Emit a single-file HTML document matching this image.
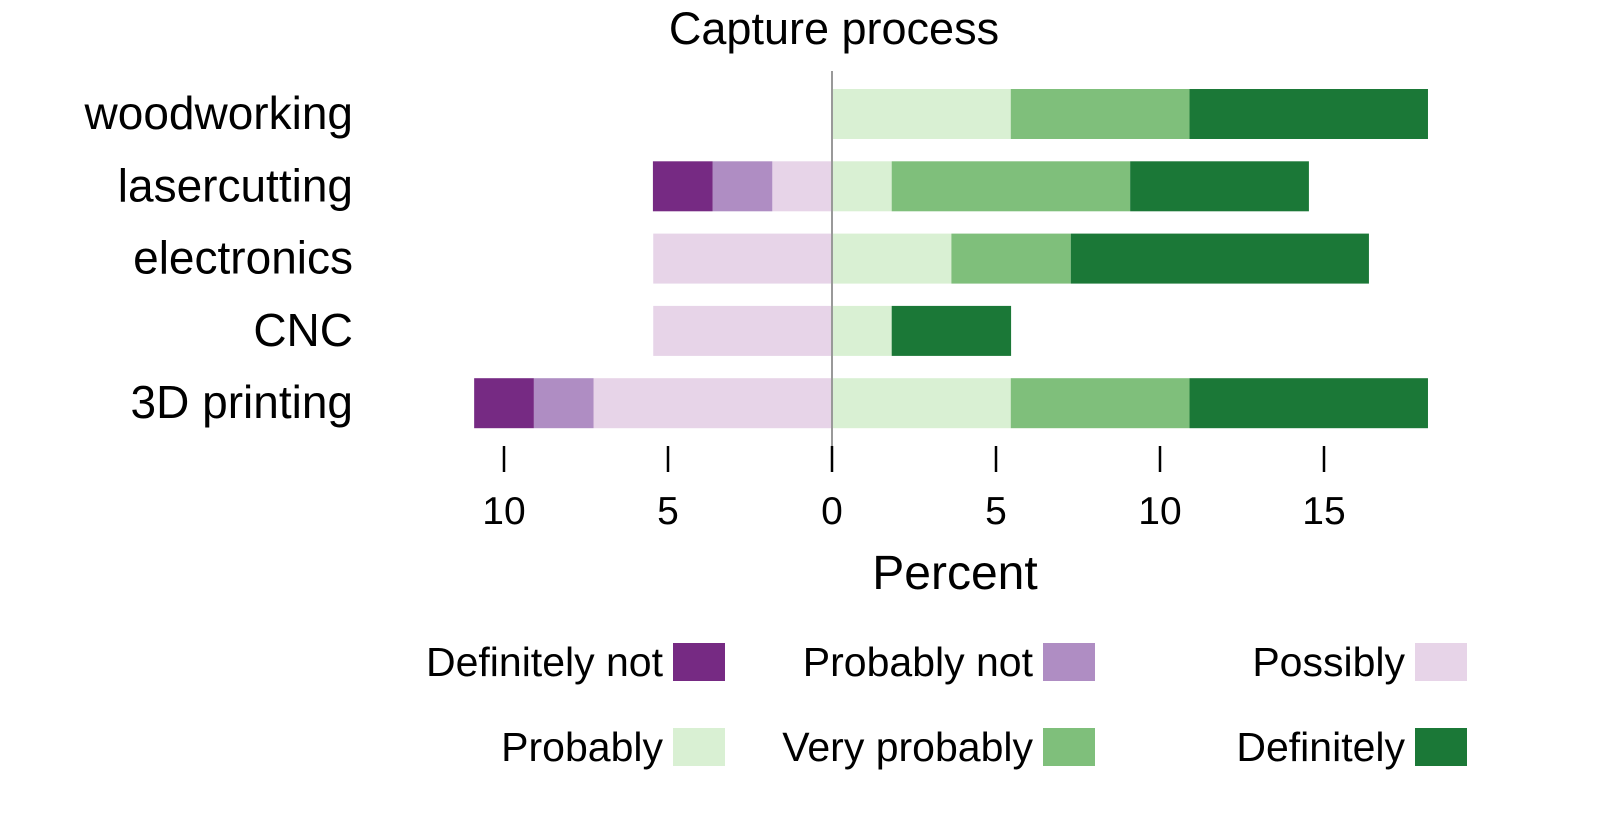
<!DOCTYPE html>
<html><head><meta charset="utf-8"><style>
html,body{margin:0;padding:0;background:#fff}
svg{display:block;font-family:"Liberation Sans",sans-serif}
</style></head><body>
<svg id="chart" width="1620" height="827" viewBox="0 0 1620 827" xmlns="http://www.w3.org/2000/svg">
<text x="834" y="44" font-size="45" text-anchor="middle">Capture process</text>
<text x="955" y="589" font-size="48" text-anchor="middle">Percent</text>
<g id="bars"></g>
<g id="axis"></g>
<g id="legend"></g>
</svg>
<script>
const categories = ["woodworking","lasercutting","electronics","CNC","3D printing"];
const levels = ["Definitely not","Probably not","Possibly","Probably","Very probably","Definitely"];
const colors = ["#762a83","#af8dc3","#e7d4e8","#d9f0d3","#7fbf7b","#1b7837"];
const definitelyNot = [0,1.82,0,0,1.82];
const probablyNot   = [0,1.82,0,0,1.82];
const possibly      = [0,1.82,5.45,5.45,7.27];
const probably      = [5.45,1.82,3.64,1.82,5.45];
const veryProbably  = [5.45,7.27,3.64,0,5.45];
const definitely    = [7.27,5.45,9.09,3.64,7.27];
const tickValues = [-10,-5,0,5,10,15];
const tickLabels = ["10","5","0","5","10","15"];

const NS="http://www.w3.org/2000/svg";
const svg=document.getElementById('chart');
const x=v=>832+v*32.8;
const y=i=>114+i*72.3;
const barH=50;
function mk(tag,attrs,parent){const e=document.createElementNS(NS,tag);for(const k in attrs)e.setAttribute(k,attrs[k]);parent.appendChild(e);return e;}
const gb=document.getElementById('bars');
const series=[definitelyNot,probablyNot,possibly,probably,veryProbably,definitely];
categories.forEach((c,i)=>{
  const t=mk('text',{x:353,y:y(i)+15,'font-size':46,'text-anchor':'end'},gb);
  
  
  t.textContent=c;
  // negative side: stack from 0 leftwards: possibly, probably not, definitely not
  let cur=0;
  [2,1,0].forEach(s=>{const v=series[s][i];if(v<=0)return;
    const r=mk('rect',{x:x(cur-v),y:y(i)-barH/2,width:v*32.8,height:barH,fill:colors[s]},gb);
    
    
    cur-=v;});
  cur=0;
  [3,4,5].forEach(s=>{const v=series[s][i];if(v<=0)return;
    const r=mk('rect',{x:x(cur),y:y(i)-barH/2,width:v*32.8,height:barH,fill:colors[s]},gb);
    
    
    cur+=v;});
});
const ga=document.getElementById('axis');
const zl=mk('line',{x1:x(0),x2:x(0),y1:71,y2:446,stroke:'#999','stroke-width':2},ga);


tickValues.forEach((v,i)=>{
  const l=mk('line',{x1:x(v),x2:x(v),y1:446,y2:472,stroke:'#000','stroke-width':2.5},ga);
  
  
  const t=mk('text',{x:x(v),y:524,'font-size':39,'text-anchor':'middle'},ga);
  
  
  t.textContent=tickLabels[i];
});
const gl=document.getElementById('legend');
const swX=[673,1043,1415];
const rowY=[662,747];
levels.forEach((lv,i)=>{
  const col=i%3,row=Math.floor(i/3);
  const r=mk('rect',{x:swX[col],y:rowY[row]-19,width:52,height:38,fill:colors[i]},gl);
  
  
  const t=mk('text',{x:swX[col]-10,y:rowY[row]+14,'font-size':41,'text-anchor':'end'},gl);
  
  
  t.textContent=lv;
});
</script>
</body></html>
